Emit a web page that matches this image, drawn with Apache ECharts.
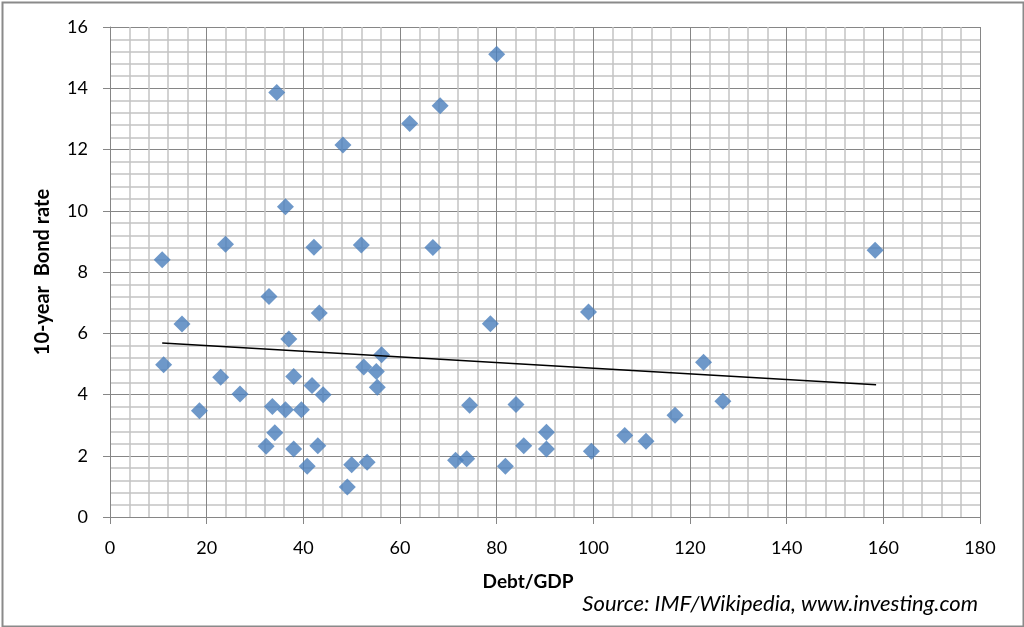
<!DOCTYPE html>
<html>
<head>
<meta charset="utf-8">
<script src="https://cdn.jsdelivr.net/npm/echarts@6/dist/echarts.min.js"></script>
<style>
html,body{margin:0;padding:0;background:#fff;}
#chart{width:1024px;height:627px;}
</style>
</head>
<body>
<div id="chart"></div>
<script>
var debtGdp = [10.8, 11.1, 14.9, 18.5, 23.9, 22.9, 26.9, 32.9, 34.5, 36.3,
  37.0, 33.6, 36.3, 38.0, 34.1, 32.3, 38.0, 39.6, 40.8, 41.8,
  42.2, 43.3, 43.0, 44.1, 48.2, 49.1, 50.0, 52.0, 52.5, 53.2,
  55.1, 55.3, 56.2, 62.0, 66.8, 68.3, 80.0, 78.7, 71.5, 73.8,
  74.4, 81.8, 84.0, 85.6, 90.3, 90.3, 99.0, 99.6, 106.5, 110.9,
  116.9, 122.8, 126.8, 158.3];
var bondRate = [8.40, 4.97, 6.30, 3.47, 8.91, 4.56, 4.02, 7.20, 13.86, 10.13,
  5.81, 3.61, 3.50, 4.59, 2.75, 2.31, 2.22, 3.50, 1.66, 4.29,
  8.81, 6.66, 2.33, 3.99, 12.15, 0.98, 1.71, 8.88, 4.90, 1.79,
  4.75, 4.24, 5.30, 12.85, 8.80, 13.43, 15.11, 6.31, 1.85, 1.90,
  3.65, 1.66, 3.67, 2.33, 2.77, 2.22, 6.69, 2.15, 2.66, 2.47,
  3.32, 5.05, 3.78, 8.71];
var trendX = [10.8, 158.5];
var trendY = [5.68, 4.32];
var xTitle = 'Debt/GDP';
var yTitle = '10-year  Bond rate';
var sourceText = 'Source: IMF/Wikipedia, www.investing.com';

var points = debtGdp.map(function (x, i) { return [x, bondRate[i]]; });
var trend = trendX.map(function (x, i) { return [x, trendY[i]]; });

var chart = echarts.init(document.getElementById('chart'), null, {renderer: 'canvas'});
var font = 'Lato, "Open Sans", sans-serif';
chart.setOption({
  animation: false,
  backgroundColor: '#fff',
  textStyle: {fontFamily: font},
  grid: {left: 110, right: 44, top: 27, bottom: 110, containLabel: false},
  xAxis: {
    type: 'value', min: 0, max: 180, interval: 20,
    name: xTitle, nameLocation: 'middle', nameGap: 55,
    nameTextStyle: {fontFamily: font, fontWeight: 'bold', fontSize: 19, color: '#000', padding: [0, 34, 0, 0]},
    axisLine: {show: true, lineStyle: {color: '#868686', width: 1}},
    axisTick: {show: true, length: 7, lineStyle: {color: '#868686'}},
    axisLabel: {fontFamily: font, fontSize: 18, color: '#000', margin: 22},
    splitLine: {show: true, lineStyle: {color: '#868686', width: 1}},
    minorTick: {show: false, splitNumber: 5},
    minorSplitLine: {show: true, lineStyle: {color: '#c4c4c4', width: 1.5}}
  },
  yAxis: {
    type: 'value', min: 0, max: 16, interval: 2,
    name: yTitle, nameLocation: 'middle', nameGap: 57, nameRotate: 90,
    nameTextStyle: {fontFamily: font, fontWeight: 'bold', fontSize: 20, color: '#000'},
    axisLine: {show: true, lineStyle: {color: '#868686', width: 1}},
    axisTick: {show: true, length: 7, lineStyle: {color: '#868686'}},
    axisLabel: {fontFamily: font, fontSize: 18, color: '#000', margin: 22},
    splitLine: {show: true, lineStyle: {color: '#868686', width: 1}},
    minorTick: {show: false, splitNumber: 5},
    minorSplitLine: {show: true, lineStyle: {color: '#c4c4c4', width: 1.5}}
  },
  graphic: [
    {type: 'rect', left: 0, top: 0, shape: {x: 1, y: 1, width: 1021, height: 624},
     style: {fill: 'none', stroke: '#8a8a8a', lineWidth: 2}, silent: true, z: 100},
    {type: 'text', right: 46, top: 593,
     style: {text: sourceText, fontFamily: font, fontStyle: 'italic', fontSize: 22, fill: '#000'}}
  ],
  series: [
    {type: 'scatter', data: points, symbol: 'diamond', symbolSize: 17,
     itemStyle: {color: '#4a7ebb', borderColor: '#4a7ebb', borderWidth: 0}, z: 3},
    {type: 'line', data: trend, showSymbol: false, symbol: 'none',
     lineStyle: {color: '#000', width: 1.5}, z: 4}
  ]
});
</script>
</body>
</html>
